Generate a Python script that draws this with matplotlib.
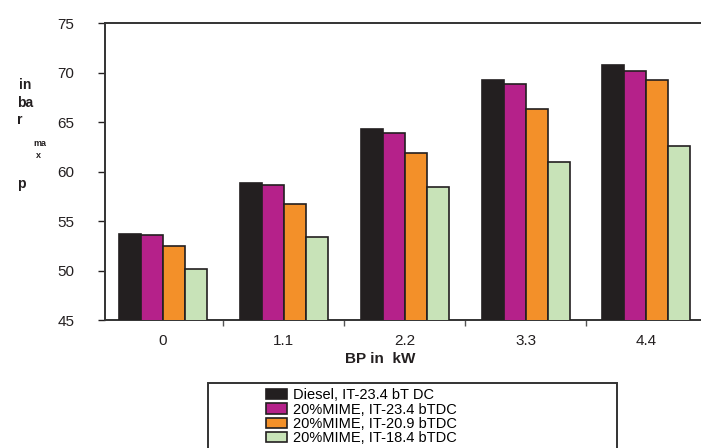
import matplotlib
matplotlib.use("Agg")
import matplotlib.pyplot as plt
from matplotlib.patches import Patch, Rectangle
import numpy as np

plt.rcParams['font.family'] = ['Liberation Sans', 'DejaVu Sans']

categories = ["0", "1.1", "2.2", "3.3", "4.4"]
series_names = ["Diesel, IT-23.4 bT DC", "20%MIME, IT-23.4 bTDC",
                "20%MIME, IT-20.9 bTDC", "20%MIME, IT-18.4 bTDC"]
diesel_234 = [53.7, 58.8, 64.3, 69.2, 70.8]
mime_234 = [53.6, 58.6, 63.9, 68.8, 70.2]
mime_209 = [52.5, 56.7, 61.9, 66.3, 69.2]
mime_184 = [50.2, 53.4, 58.4, 61.0, 62.6]
series = [diesel_234, mime_234, mime_209, mime_184]
colors = ["#231f20", "#b5218a", "#f39029", "#c8e3b8"]

W, H = 701, 448
fig = plt.figure(figsize=(W / 100, H / 100), dpi=100)
left_px, right_px, top_px, bot_px = 105, 719, 23, 320
ax = fig.add_axes([left_px / W, 1 - bot_px / H, (right_px - left_px) / W, (bot_px - top_px) / H])

x = np.arange(len(categories))
bw = 0.182
for i, (vals, c) in enumerate(zip(series, colors)):
    ax.bar(x + (i - 1.5) * bw, vals, width=bw, color=c, edgecolor="#231f20",
           linewidth=1.2, zorder=3)

ax.set_ylim(45, 75)
ax.set_xlim(-0.48, 4.6)
ax.set_yticks([45, 50, 55, 60, 65, 70, 75])
ax.tick_params(axis='y', direction='out', length=5, width=1, pad=17, labelsize=11, colors="#231f20")
ax.set_xticks(x)
ax.set_xticklabels(categories)
ax.tick_params(axis='x', which='major', length=0, pad=10, labelsize=11, colors="#231f20")
ax.set_xticks(x[:-1] + 0.5, minor=True)
ax.tick_params(axis='x', which='minor', direction='out', length=4, width=1, color="#555555")
for s in ['left', 'bottom', 'top', 'right']:
    ax.spines[s].set_color("#333333")
    ax.spines[s].set_linewidth(1.4)

fig.text(380 / W, 1 - 359 / H, "BP in  kW", ha='center', va='center',
         fontsize=11, fontweight='bold', color="#231f20")

# fragmented y-axis label as in the reference
def pt(xp, yp, s, size=10, **kw):
    fig.text(xp / W, 1 - yp / H, s, fontsize=size, fontweight='bold', color="#231f20",
             va='center', ha='left', **kw)
pt(19, 85, "in")
pt(17, 103, "ba")
pt(17, 120, "r")
pt(33, 144, "ma", size=6.5)
pt(36, 155, "x", size=6.5)
pt(17, 184, "p")

# legend box (cropped at bottom like the reference)
rect = Rectangle((208 / W, 1 - 470 / H), (617 - 208) / W, (470 - 383) / H,
                 transform=fig.transFigure, fill=False, edgecolor="#333333",
                 linewidth=1.4, clip_on=False)
fig.patches.append(rect)
handles = [Patch(facecolor=c, edgecolor="#231f20", linewidth=1.2) for c in colors]
fig.legend(handles, series_names, loc='upper left',
           bbox_to_anchor=(256 / W, 1 - 378 / H), frameon=False,
           fontsize=10.5, handlelength=1.4, handleheight=0.7, handletextpad=0.45,
           labelspacing=0.02, borderpad=0.2)

fig.savefig("out.png", dpi=100)
